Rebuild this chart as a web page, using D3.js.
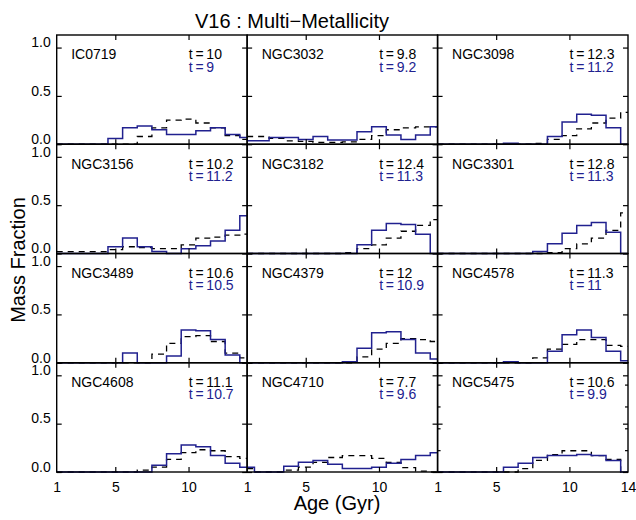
<!DOCTYPE html>
<html lang="en">
<head>
    <meta charset="UTF-8">
    <title>V16 : Multi-Metallicity</title>
    <script src="https://d3js.org/d3.v7.min.js"></script>
    <style>
        body { margin: 0; background: #fff; }
        text { font-family: "Liberation Sans", Arial, sans-serif; }
    </style>
</head>
<body>
    <script>
        // galaxy names, ages quoted in each panel
        var galaxies = ["IC0719", "NGC3032", "NGC3098", "NGC3156", "NGC3182", "NGC3301",
                        "NGC3489", "NGC4379", "NGC4578", "NGC4608", "NGC4710", "NGC5475"];
        var tDashed = ["10", "9.8", "12.3", "10.2", "12.4", "12.8", "10.6", "12", "11.3", "11.1", "7.7", "10.6"];
        var tSolid  = ["9", "9.2", "11.2", "11.2", "11.3", "11.3", "10.5", "10.9", "11", "10.7", "9.6", "9.9"];

        // age bins (Gyr), one value per bin
        var ages = [1, 2, 3, 4, 5, 6, 7, 8, 9, 10, 11, 12, 13, 14];

        // mass fraction per bin, solid blue histograms
        var solid = [
            [0, 0, 0, 0, 0.06, 0.17, 0.19, 0.15, 0.10, 0.10, 0.14, 0.17, 0.10, 0.07],
            [0.035, 0.035, 0.07, 0.07, 0.05, 0.08, 0.045, 0.045, 0.13, 0.18, 0.095, 0.05, 0.095, 0.18],
            [0, 0, 0, 0, 0, 0.01, 0, 0, 0.08, 0.23, 0.31, 0.30, 0.17, 0],
            [0, 0, 0, 0, 0.07, 0.16, 0.07, 0.02, 0, 0.05, 0.08, 0.13, 0.24, 0.39],
            [0, 0, 0, 0, 0, 0, 0, 0, 0.09, 0.24, 0.31, 0.30, 0.20, 0],
            [0, 0, 0, 0, 0, 0, 0, 0.02, 0.10, 0.21, 0.29, 0.32, 0.22, 0],
            [0, 0, 0, 0, 0, 0.10, 0, 0, 0.07, 0.34, 0.33, 0.24, 0.08, 0],
            [0, 0, 0, 0, 0, 0, 0, 0.01, 0.15, 0.31, 0.32, 0.24, 0.10, 0.04],
            [0, 0, 0, 0, 0, 0.01, 0, 0, 0.12, 0.29, 0.34, 0.26, 0.12, 0.02],
            [0, 0, 0, 0, 0, 0, 0, 0.07, 0.19, 0.28, 0.26, 0.17, 0.09, 0.05],
            [0.05, 0, 0, 0.06, 0.10, 0.12, 0.08, 0.035, 0.035, 0.05, 0.09, 0.13, 0.17, 0.20],
            [0, 0, 0, 0, 0, 0.05, 0.09, 0.15, 0.17, 0.17, 0.18, 0.17, 0.12, 0]
        ];
        // dashed black histograms
        var dashed = [
            [0, 0, 0, 0, 0, 0, 0.08, 0.17, 0.25, 0.26, 0.22, 0.17, 0.09, 0.05],
            [0.08, 0.08, 0.06, 0.035, 0.03, 0.02, 0.02, 0.025, 0.05, 0.09, 0.15, 0.17, 0.18, 0.18],
            [0, 0, 0, 0, 0, 0, 0, 0.01, 0.05, 0.09, 0.16, 0.22, 0.27, 0.33],
            [0.02, 0.02, 0.02, 0.02, 0.04, 0.07, 0.06, 0.05, 0.05, 0.09, 0.16, 0.17, 0.19, 0.20],
            [0, 0, 0, 0, 0, 0, 0, 0.01, 0.05, 0.09, 0.16, 0.23, 0.29, 0.35],
            [0, 0, 0, 0, 0, 0, 0, 0, 0.01, 0.05, 0.10, 0.16, 0.24, 0.42],
            [0, 0, 0, 0, 0, 0, 0, 0.09, 0.20, 0.27, 0.28, 0.22, 0.10, 0.05],
            [0, 0, 0, 0, 0, 0, 0, 0, 0.06, 0.14, 0.20, 0.25, 0.24, 0.22],
            [0, 0, 0, 0, 0, 0, 0, 0.05, 0.14, 0.19, 0.24, 0.24, 0.18, 0.17],
            [0, 0, 0, 0, 0, 0, 0.02, 0.05, 0.13, 0.20, 0.23, 0.22, 0.16, 0.14],
            [0.035, 0, 0, 0.02, 0.05, 0.10, 0.15, 0.17, 0.17, 0.14, 0.10, 0.045, 0.01, 0],
            [0, 0, 0, 0, 0, 0, 0.035, 0.12, 0.18, 0.22, 0.22, 0.17, 0.13, 0]
        ];

        var yTicks = [0, 0.5, 1.0];
        var xTicks = [1, 5, 10];
        var xTicksLast = [1, 5, 10, 14];

        var width = 636;
        var height = 520;
        var plotLeft = 56.7, plotRight = 628, plotTop = 35, plotBottom = 472;
        var nCols = 3, nRows = 4;
        var cellW = (plotRight - plotLeft) / nCols;
        var cellH = (plotBottom - plotTop) / nRows;
        var blue = "#21218f";

        var svg = d3.select("body")
            .append("svg")
            .attr("width", width)
            .attr("height", height);

        var x = d3.scaleLinear().domain([1, 14]).range([0, cellW]);
        var y = d3.scaleLinear().domain([0, 1.13]).range([cellH, 0]);

        // histogram as steps: each bin spans age +/- 0.5, clipped to the axis range
        var step = d3.line()
            .x(function (d) { return x(d[0]); })
            .y(function (d) { return y(d[1]); })
            .curve(d3.curveStepAfter);

        function stepPoints(values) {
            var pts = values.map(function (v, i) {
                return [Math.max(1, ages[i] - 0.5), v];
            });
            pts.push([14, values[values.length - 1]]);
            return pts;
        }

        galaxies.forEach(function (name, i) {
            var col = i % nCols;
            var row = Math.floor(i / nCols);
            var g = svg.append("g")
                .attr("transform", "translate(" + (plotLeft + col * cellW) + "," + (plotTop + row * cellH) + ")");

            g.append("path")
                .attr("d", step(stepPoints(dashed[i])))
                .attr("fill", "none")
                .attr("stroke", "#000")
                .attr("stroke-width", 1.3)
                .attr("stroke-dasharray", "6,5");

            g.append("path")
                .attr("d", step(stepPoints(solid[i])))
                .attr("fill", "none")
                .attr("stroke", blue)
                .attr("stroke-width", 1.5);

            // inward ticks on all four sides
            g.append("g").attr("transform", "translate(0," + cellH + ")")
                .call(d3.axisBottom(x).tickValues([5, 10]).tickSize(-5).tickFormat(""));
            g.append("g")
                .call(d3.axisTop(x).tickValues([5, 10]).tickSize(-5).tickFormat(""));
            g.append("g")
                .call(d3.axisLeft(y).tickValues(yTicks).tickSize(-5).tickFormat(""));
            g.append("g").attr("transform", "translate(" + cellW + ",0)")
                .call(d3.axisRight(y).tickValues(yTicks).tickSize(-5).tickFormat(""));

            // the last panel carries extra small ticks on both y axes
            if (i === galaxies.length - 1) {
                var minor = d3.range(1, 5).map(function (k) { return k * y.domain()[1] / 5; });
                g.append("g")
                    .call(d3.axisLeft(y).tickValues(minor).tickSize(-3).tickFormat(""));
                g.append("g").attr("transform", "translate(" + cellW + ",0)")
                    .call(d3.axisRight(y).tickValues(minor).tickSize(-3).tickFormat(""));
            }
            g.selectAll(".domain").remove();
            g.selectAll(".tick line").attr("stroke", "#000").attr("stroke-width", 1.2);

            g.append("rect")
                .attr("width", cellW)
                .attr("height", cellH)
                .attr("fill", "none")
                .attr("stroke", "#000")
                .attr("stroke-width", 1.4);

            if (col === 0) {
                var ya = g.append("g")
                    .call(d3.axisLeft(y).tickValues(yTicks).tickSize(0).tickPadding(6).tickFormat(d3.format(".1f")));
                ya.select(".domain").remove();
                ya.selectAll("text").attr("font-size", 14).attr("dy", "-0.05em")
                    .style("font-family", "Liberation Sans, Arial, sans-serif");
            }
            if (row === nRows - 1) {
                var xa = g.append("g").attr("transform", "translate(0," + cellH + ")")
                    .call(d3.axisBottom(x).tickValues(col === nCols - 1 ? xTicksLast : xTicks)
                        .tickSize(0).tickPadding(10).tickFormat(d3.format("d")));
                xa.select(".domain").remove();
                xa.selectAll("text").attr("font-size", 14)
                    .style("font-family", "Liberation Sans, Arial, sans-serif");
            }

            g.append("text")
                .attr("x", 14.5).attr("y", 24.3)
                .attr("font-size", 14)
                .text(name);
            g.append("text")
                .attr("x", 132).attr("y", 24.3)
                .attr("font-size", 14)
                .text("t\u2009=\u2009" + tDashed[i]);
            g.append("text")
                .attr("x", 132).attr("y", 36.5)
                .attr("font-size", 14)
                .attr("fill", blue)
                .text("t\u2009=\u2009" + tSolid[i]);
        });

        svg.append("text")
            .attr("x", 292).attr("y", 28)
            .attr("text-anchor", "middle")
            .attr("font-size", 20)
            .text("V16 : Multi\u2212Metallicity");

        svg.append("text")
            .attr("x", 337).attr("y", 510)
            .attr("text-anchor", "middle")
            .attr("font-size", 20)
            .text("Age (Gyr)");

        svg.append("text")
            .attr("transform", "translate(25,260) rotate(-90)")
            .attr("text-anchor", "middle")
            .attr("font-size", 20)
            .text("Mass Fraction");
    </script>
</body>
</html>
